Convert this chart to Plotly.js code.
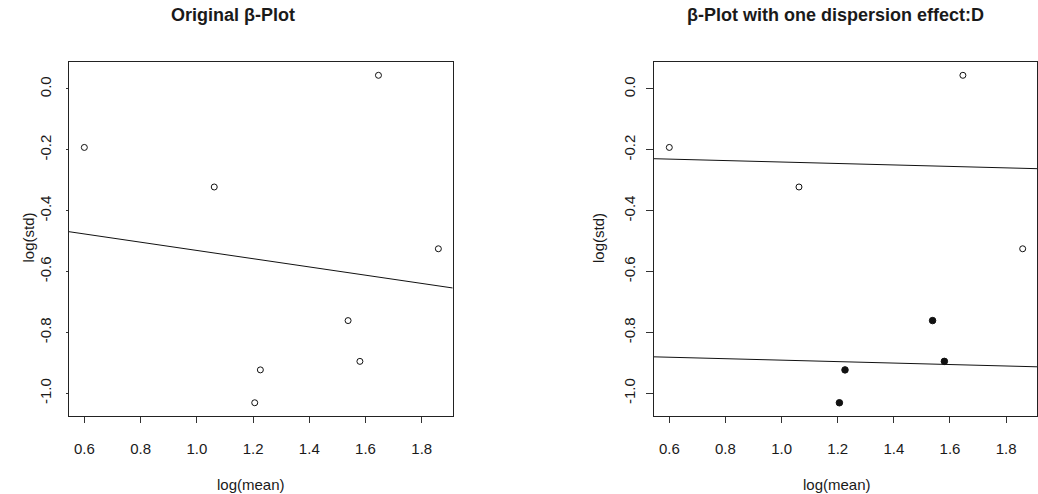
<!DOCTYPE html>
<html>
<head>
<meta charset="utf-8">
<script src="https://cdn.plot.ly/plotly-3.0.1.min.js"></script>
<style>html,body{margin:0;padding:0;background:#fff;}#chart{width:1038px;height:494px;}</style>
</head>
<body>
<div id="chart"></div>
<script>
// ---- data ----
const openX = [0.600, 1.062, 1.646, 1.859];
const openY = [-0.192, -0.322, 0.045, -0.525];
const lowX  = [1.538, 1.580, 1.226, 1.206];
const lowY  = [-0.761, -0.895, -0.923, -1.031];

// fitted lines (intercept, slope)
const origLine  = {intercept: -0.395, slope: -0.1355};
const dispUpper = {intercept: -0.216, slope: -0.024};
const dispLower = {intercept: -0.867, slope: -0.024};

const xTickVals = [0.6, 0.8, 1.0, 1.2, 1.4, 1.6, 1.8];
const xTickText = ["0.6", "0.8", "1.0", "1.2", "1.4", "1.6", "1.8"];
const yTickVals = [0.0, -0.2, -0.4, -0.6, -0.8, -1.0];
const yTickText = ["0.0", "-0.2", "-0.4", "-0.6", "-0.8", "-1.0"];

const titles = ["Original \u03b2-Plot", "\u03b2-Plot with one dispersion effect:D"];
const xLabel = "log(mean)";
const yLabel = "log(std)";

// ---- layout geometry ----
const W = 1038, H = 494;
const xRange = [0.5455, 1.910];
const yRange = [-1.0745, 0.0887];
const FONT = "Liberation Sans, Arial, sans-serif";
const INK = "#1a1a1a";

function lineTrace(l, xa, ya) {
  return {
    x: xRange.slice(),
    y: xRange.map(v => l.intercept + l.slope * v),
    xaxis: xa, yaxis: ya, mode: "lines", type: "scatter",
    line: {color: "#111", width: 1}, hoverinfo: "skip", showlegend: false, cliponaxis: true
  };
}
function pts(x, y, xa, ya, filled) {
  return {
    x: x, y: y, xaxis: xa, yaxis: ya, mode: "markers", type: "scatter", showlegend: false,
    marker: filled
      ? {symbol: "circle", size: 6.5, color: "#111", line: {color: "#111", width: 1}}
      : {symbol: "circle-open", size: 6, color: "#111", line: {color: "#111", width: 1}}
  };
}

const traces = [
  lineTrace(origLine, "x", "y"),
  pts(openX, openY, "x", "y", false),
  pts(lowX, lowY, "x", "y", false),
  lineTrace(dispUpper, "x2", "y2"),
  lineTrace(dispLower, "x2", "y2"),
  pts(openX, openY, "x2", "y2", false),
  pts(lowX, lowY, "x2", "y2", true)
];

function xax(domain, anchor) {
  return {
    domain: domain, anchor: anchor, range: xRange, autorange: false,
    tickmode: "array", tickvals: xTickVals, ticktext: xTickText,
    ticks: "outside", ticklen: 6, tickwidth: 1, tickcolor: "#333",
    showline: true, mirror: true, linecolor: "#222", linewidth: 1,
    showgrid: false, zeroline: false, fixedrange: true,
    tickfont: {family: FONT, size: 15, color: INK}, ticklabelstandoff: 13
  };
}
function yax(domain, anchor, tlen, standoff) {
  return {
    domain: domain, anchor: anchor, range: yRange, autorange: false,
    tickmode: "array", tickvals: yTickVals, ticktext: yTickText, tickangle: -90,
    ticks: "outside", ticklen: tlen, tickwidth: 1, tickcolor: "#333",
    showline: true, mirror: true, linecolor: "#222", linewidth: 1,
    showgrid: false, zeroline: false, fixedrange: true,
    tickfont: {family: FONT, size: 15, color: INK}, ticklabelstandoff: standoff
  };
}

const yDom = [1 - 416 / H, 1 - 62 / H];

function ann(text, px, py, size, angle) {
  return {
    text: text, xref: "paper", yref: "paper", x: px / W, y: 1 - py / H,
    xanchor: "center", yanchor: "middle", showarrow: false, textangle: angle || 0,
    font: {family: FONT, size: size, color: INK}
  };
}

const layout = {
  width: W, height: H,
  margin: {l: 0, r: 0, t: 0, b: 0, pad: 0},
  paper_bgcolor: "#fff", plot_bgcolor: "#fff",
  showlegend: false,
  xaxis: xax([69 / W, 452.7 / W], "y"),
  yaxis: yax(yDom, "x", 2, 9),
  xaxis2: xax([654 / W, 1037 / W], "y2"),
  yaxis2: yax(yDom, "x2", 7, 5),
  annotations: [
    ann("<b>" + titles[0] + "</b>", 233, 15, 18),
    ann("<b>" + titles[1] + "</b>", 835, 15, 18),
    ann(xLabel, 251, 484, 15),
    ann(xLabel, 837, 484, 15),
    ann(yLabel, 27.5, 238, 15, -90),
    ann(yLabel, 598, 238, 15, -90)
  ]
};

Plotly.newPlot("chart", traces, layout, {staticPlot: true, displayModeBar: false});
</script>
</body>
</html>
